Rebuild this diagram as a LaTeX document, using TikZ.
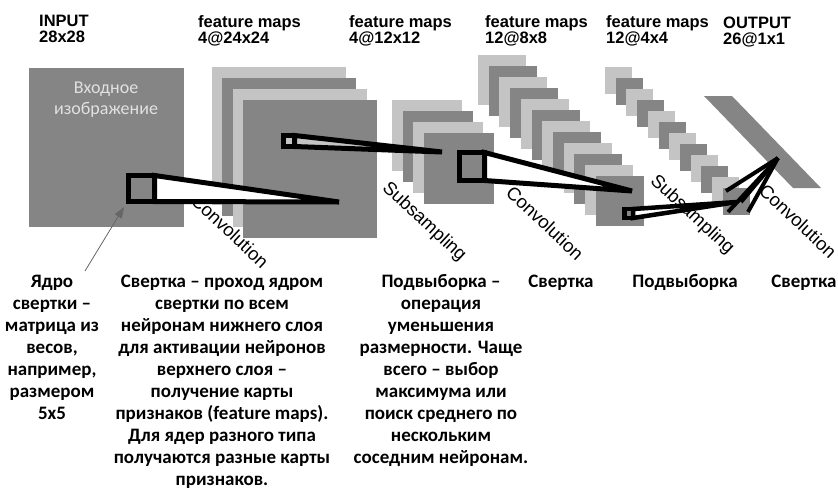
\documentclass[tikz,border=0pt]{standalone}
\usepackage{fontspec}
\setmainfont{Carlito}
\newfontfamily\arialf{Liberation Sans}
\usetikzlibrary{arrows.meta}
\definecolor{dk}{RGB}{133,133,133}
\definecolor{lt}{RGB}{196,196,196}
\definecolor{intext}{RGB}{225,225,225}
\tikzset{
  header/.style={font=\arialf\bfseries\fontsize{16.5}{16}\selectfont, align=left, anchor=north west, inner sep=0pt},
  note/.style={font=\bfseries\fontsize{19}{22}\selectfont, align=center, anchor=north, inner sep=0pt},
  rotlab/.style={font=\arialf\fontsize{18.5}{20}\selectfont, rotate=-43, inner sep=0pt},
  kern/.style={draw=black, line width=5pt, line join=miter},
  kernthin/.style={draw=black, line width=4.5pt, line join=miter},
  fanline/.style={draw=black, line width=4pt},
  kerarrow/.style={draw=black!60, line width=0.8pt, -{Triangle[length=11pt,width=8pt]}}
}
\newcommand{\tallfirst}{\vphantom{бБ}}
\begin{document}
\begin{tikzpicture}[x=1pt,y=-1pt]
\useasboundingbox (0,0) rectangle (838,490);
\fill[white] (0,0) rectangle (838,490);

% headers
\node[header] (hin) at (39,15) {INPUT\\28x28};
\node[header] (hc1) at (198,15) {feature maps\\4@24x24};
\node[header] (hs1) at (349,15) {feature maps\\4@12x12};
\node[header] (hc2) at (485,15) {feature maps\\12@8x8};
\node[header] (hs2) at (606,15) {feature maps\\12@4x4};
\node[header] (hout) at (723,17) {OUTPUT\\26@1x1};

% input image
\fill[dk] (29,68) rectangle (184,227);
\node[font=\fontsize{18}{21}\selectfont, text=intext, align=center, inner sep=0pt] (intxt) at (106,100) {Входное\\изображение};

% layer C1: 4 maps
\foreach \i in {0,...,3}{
  \pgfmathsetmacro\px{211.5+10.6*\i}
  \pgfmathsetmacro\py{66.5+11*\i}
  \ifodd\i \def\cc{dk}\else\def\cc{lt}\fi
  \fill[\cc] (\px,\py) rectangle ++(134,138);
}
% layer S1: 4 maps
\foreach \i in {0,...,3}{
  \pgfmathsetmacro\px{392+10.5*\i}
  \pgfmathsetmacro\py{100+11*\i}
  \ifodd\i \def\cc{dk}\else\def\cc{lt}\fi
  \fill[\cc] (\px,\py) rectangle ++(70,71);
}
% layer C2: 12 maps
\foreach \i in {0,...,11}{
  \pgfmathsetmacro\px{478+10.7*\i}
  \pgfmathsetmacro\py{55+11*\i}
  \ifodd\i \def\cc{dk}\else\def\cc{lt}\fi
  \fill[\cc] (\px,\py) rectangle ++(48,49.5);
}
% layer S2: 12 maps
\foreach \i in {0,...,11}{
  \pgfmathsetmacro\px{605+10.7*\i}
  \pgfmathsetmacro\py{67+11*\i}
  \ifodd\i \def\cc{dk}\else\def\cc{lt}\fi
  \fill[\cc] (\px,\py) rectangle ++(27,27);
}
% output
\fill[dk] (704,96) -- (732,96) -- (821,188) -- (793,188) -- cycle;

% rotated operation labels
\node[rotlab] (conv1) at (230,231) {Convolution};
\node[rotlab] (sub1) at (424,222) {Subsampling};
\node[rotlab] (conv2) at (545,223) {Convolution};
\node[rotlab] (sub2) at (692,215) {Subsampling};
\node[rotlab] (conv3) at (798,221) {Convolution};

% kernel 1: input -> C1
\coordinate (k1a) at (128.5,175.5);
\coordinate (k1b) at (154.5,201.5);
\coordinate (k1tr) at (154.5,175.5);
\coordinate (k1apex) at (339,202);
\fill[white] (k1tr) -- (k1apex) -- (k1b) -- cycle;
\draw[kern] (k1tr) -- (k1apex) -- (k1b) -- cycle;
\draw[kern] (k1a) rectangle (k1b);

% kernel 2: C1 -> S1
\coordinate (k2a) at (283.5,135.5);
\coordinate (k2b) at (294.5,146.5);
\coordinate (k2tr) at (294.5,135.5);
\coordinate (k2apex) at (442,152);
\fill[lt] (k2a) rectangle (k2b);
\fill[lt] (k2tr) -- (k2apex) -- (k2b) -- cycle;
\draw[kern] (k2tr) -- (k2apex) -- (k2b) -- cycle;
\draw[kern] (k2a) rectangle (k2b);

% kernel 3: S1 -> C2
\coordinate (k3a) at (459.5,152.5);
\coordinate (k3b) at (484.5,180.5);
\coordinate (k3tr) at (484.5,152.5);
\coordinate (k3apex) at (632,191);
\fill[white] (k3tr) -- (k3apex) -- (k3b) -- cycle;
\draw[kern] (k3tr) -- (k3apex) -- (k3b) -- cycle;
\draw[kern] (k3a) rectangle (k3b);

% kernel 4: C2 -> S2
\coordinate (k4a) at (624.5,209);
\coordinate (k4b) at (633,218);
\coordinate (k4tr) at (633,209);
\coordinate (k4apex) at (737,202);
\fill[white] (k4tr) -- (k4apex) -- (k4b) -- cycle;
\draw[kernthin] (k4tr) -- (k4apex) -- (k4b) -- cycle;
\draw[kernthin] (k4a) rectangle (k4b);

% kernel 5: S2 -> output
\coordinate (oc) at (778,158);
\coordinate (f1) at (726,191);
\coordinate (f2) at (741,202);
\coordinate (f3) at (728,212);
\coordinate (f4) at (748,212);
\draw[fanline] (oc) -- (f1);
\draw[fanline] (oc) -- (f2);
\draw[fanline] (oc) -- (f3);
\draw[fanline] (oc) -- (f4);

% annotations
\node[note] (yadro) at (52,274) {\tallfirst Ядро\\свертки –\\матрица из\\весов,\\например,\\размером\\5x5};
\node[note] (svdesc) at (222,274) {\tallfirst Свертка – проход ядром\\свертки по всем\\нейронам нижнего слоя\\для активации нейронов\\верхнего слоя –\\получение карты\\признаков (feature maps).\\Для ядер разного типа\\получаются разные карты\\признаков.};
\node[note] (pvdesc) at (441,274) {\tallfirst Подвыборка –\\операция\\уменьшения\\размерности. Чаще\\всего – выбор\\максимума или\\поиск среднего по\\нескольким\\соседним нейронам.};
\node[note] (sv2) at (561,274) {\tallfirst Свертка};
\node[note] (pv2) at (685,274) {\tallfirst Подвыборка};
\node[note] (sv3) at (804,274) {\tallfirst Свертка};

% arrow to kernel
\coordinate (arrstart) at (85,271);
\coordinate (kbl) at (124,207);
\draw[kerarrow] (arrstart) -- (kbl);
\end{tikzpicture}
\end{document}
